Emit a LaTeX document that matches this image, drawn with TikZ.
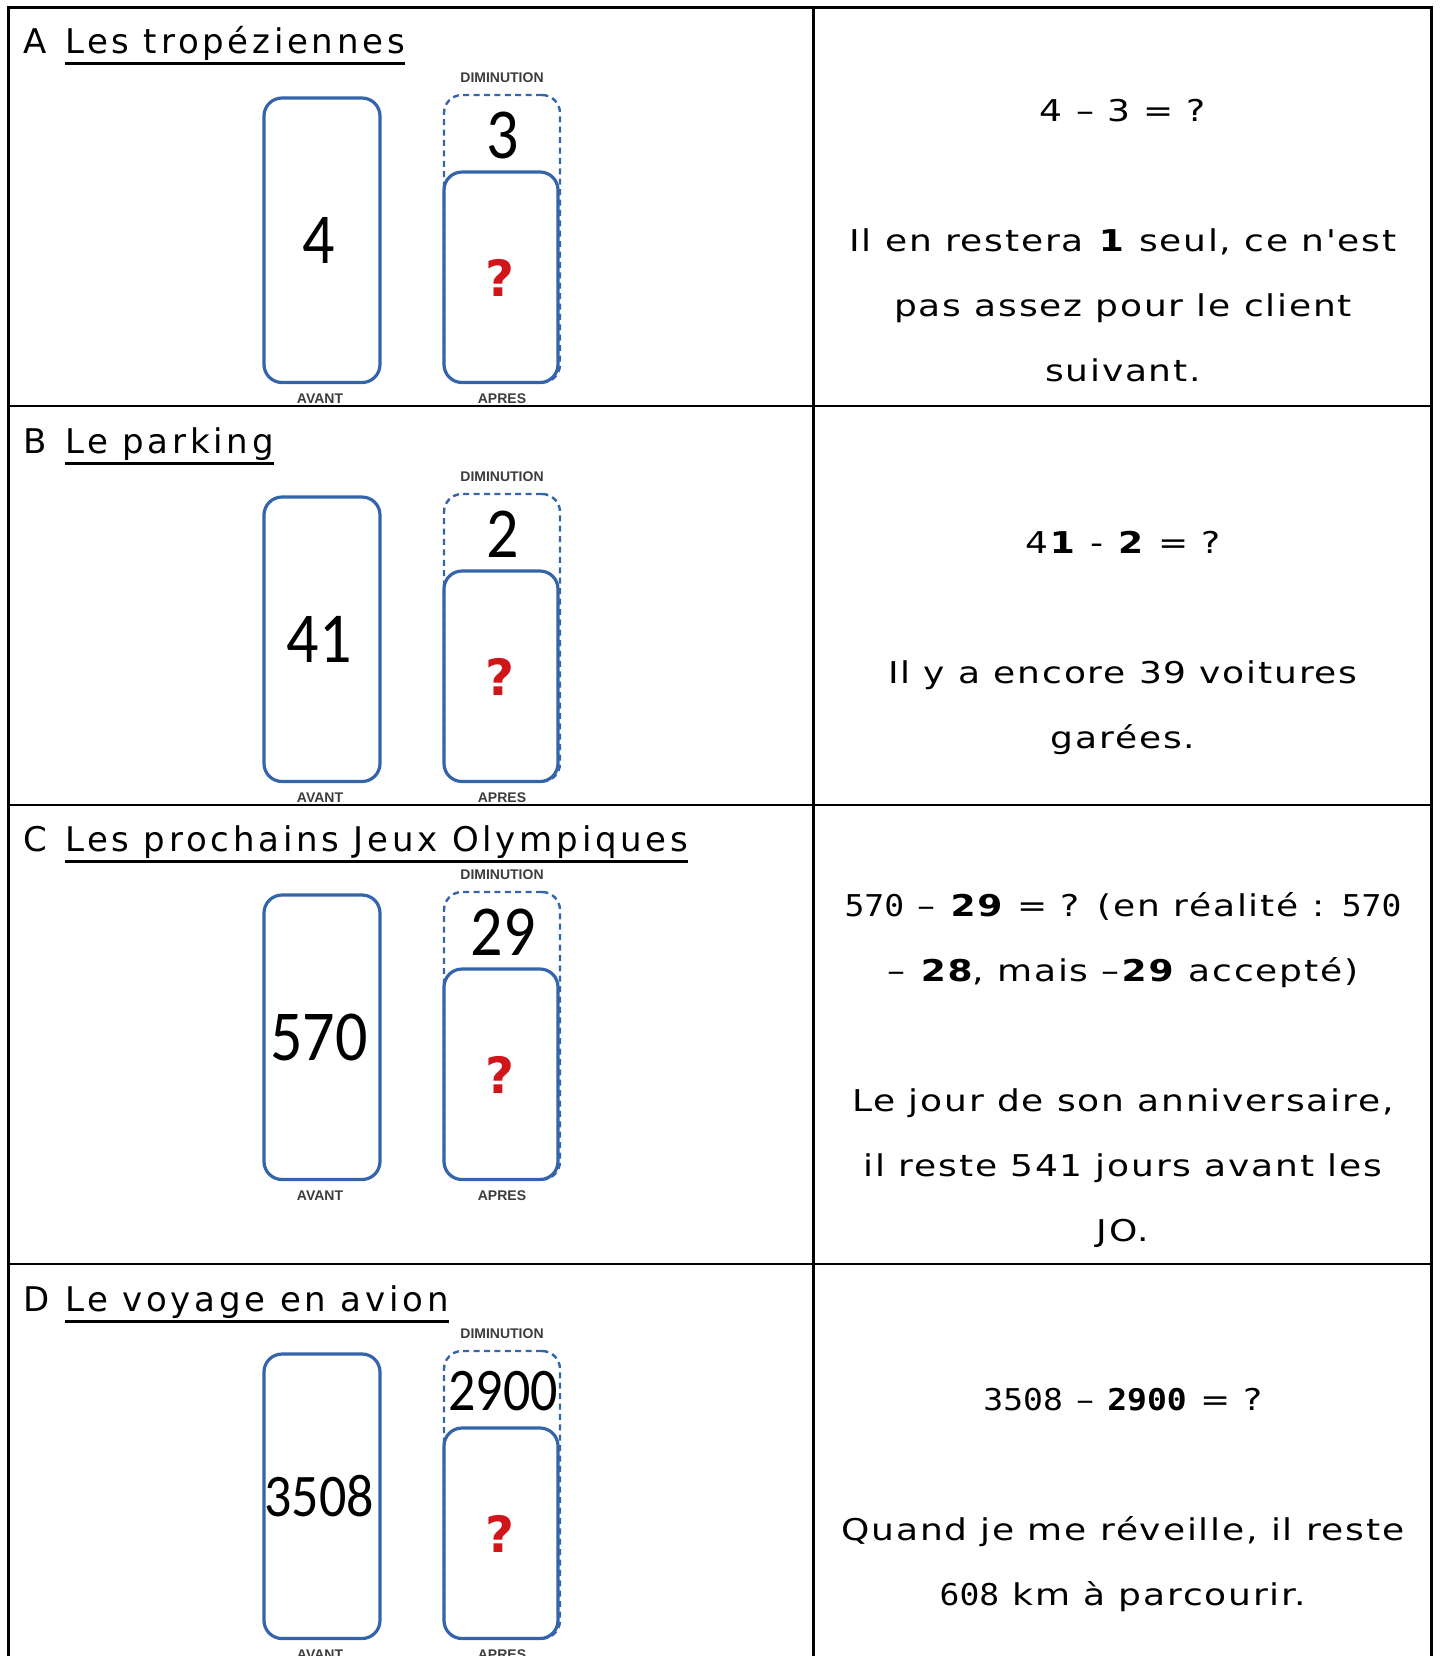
\documentclass[tikz,border=0pt]{standalone}
\usepackage{fontspec}
\setmainfont{DejaVu Sans}
\newfontfamily\titlefont[LetterSpace=11]{DejaVu Sans}
\newfontfamily\bodyfont[FakeStretch=1.2,LetterSpace=6]{DejaVu Sans}
\newfontfamily\digitfont[FakeStretch=1.1]{DejaVu Sans Mono}
\newfontfamily\boxfont{Carlito}
\newfontfamily\capsfont{Liberation Sans}
\usetikzlibrary{positioning,calc}

\definecolor{boxblue}{RGB}{52,100,170}
\definecolor{qred}{RGB}{208,22,26}
\definecolor{capsgray}{RGB}{60,60,60}

% number written inside a bar (slightly stretched upwards)
\newcommand{\boxnum}[2]{\scalebox{1}[1.12]{\boxfont\fontsize{#1}{#1}\selectfont #2}}

\begin{document}
\begin{tikzpicture}[x=0.5pt, y=-0.5pt,
    every node/.style={inner sep=0pt, outer sep=0pt},
    grid/.style={line width=1.1pt},
    uline/.style={line width=1.5pt},
    bar/.style={draw=boxblue, line width=1.6pt, rounded corners=9pt},
    dimbar/.style={draw=boxblue, line width=1.2pt, dash pattern=on 3pt off 2.2pt, rounded corners=9pt},
    caps/.style={font=\capsfont\bfseries\fontsize{7}{7}\selectfont, text=capsgray},
    title/.style={font=\titlefont\fontsize{17}{17}\selectfont, anchor=base west},
    answer/.style={font=\bodyfont\fontsize{15}{32.5}\selectfont, align=center, anchor=base},
    qmark/.style={font=\bfseries\fontsize{25}{25}\selectfont, text=qred}]
    \useasboundingbox (0,0) rectangle (1440,1656);

    % bars of each problem
    \foreach \r/\dy/\av/\avs/\dm/\dms in {A/0/4/32/3/32, B/399/41/32/2/32, C/797/570/32/29/32, D/1256/3508/27/2900/27} {
        \node [caps] (diml\r) at (502,78+\dy) {DIMINUTION};
        \node [dimbar, minimum width=58pt, minimum height=143.75pt] (dim\r) at (502,238.75+\dy) {};
        \node [bar, minimum width=58pt, minimum height=142.25pt] (av\r) at (322,240.25+\dy) {};
        \node [bar, minimum width=57pt, minimum height=105.25pt] (ap\r) at (501,277.25+\dy) {};
        \node (avn\r) at (319,240+\dy) {\boxnum{\avs}{\av}};
        \node (dmn\r) at (503,135+\dy) {\boxnum{\dms}{\dm}};
        \node [qmark] (q\r) at (500,278+\dy) {?};
        \node [caps] (avl\r) at (320,399+\dy) {AVANT};
        \node [caps] (apl\r) at (502,399+\dy) {APRES};
    }

    % titles
    \node [title] (lA) at (24,53.3) {A};
    \node [title] (tA) at (65,53.3) {Les tropéziennes};
    \node [title] (lB) at (24,453.3) {B};
    \node [title] (tB) at (65,453.3) {Le parking};
    \node [title] (lC) at (24,851.7) {C};
    \node [title] (tC) at (65,851.7) {Les prochains Jeux Olympiques};
    \node [title] (lD) at (24,1311.7) {D};
    \node [title] (tD) at (65,1311.7) {Le voyage en avion};
    \foreach \t in {tA,tB,tC,tD}
        \draw [uline] ($(\t.base west)+(0,10)$) -- ($(\t.base east)+(0,10)$);

    % answers (base = last line)
    \node [answer] (eqA) at (1123,121.7) {4 – 3 = ?};
    \node [answer] (txA) at (1123,381.7) {Il en restera \textbf{1} seul, ce n'est\\pas assez pour le client\\suivant.};
    \node [answer] (eqB) at (1123,553.3) {4\textbf{1} - \textbf{2} = ?};
    \node [answer] (txB) at (1123,748) {Il y a encore 39 voitures\\garées.};
    \node [answer] (eqC) at (1123,981.7) {{\digitfont 570} – \textbf{29} = ? (en réalité : {\digitfont 570}\\– \textbf{28}, mais –\textbf{29} accepté)};
    \node [answer] (txC) at (1123,1241.7) {Le jour de son anniversaire,\\il reste 541 jours avant les\\JO.};
    \node [answer] (eqD) at (1123,1410) {{\digitfont 3508} – {\digitfont\bfseries 2900} = ?};
    \node [answer] (txD) at (1123,1605) {Quand je me réveille, il reste\\{\digitfont 608} km à parcourir.};

    % table
    \draw [grid] (8.5,1656) -- (8.5,7.4) -- (1431.5,7.4) -- (1431.5,1656);
    \draw [grid] (813.5,7.4) -- (813.5,1656);
    \foreach \y in {405.7,805,1263.6}
        \draw [grid] (8.5,\y) -- (1431.5,\y);
\end{tikzpicture}
\end{document}
